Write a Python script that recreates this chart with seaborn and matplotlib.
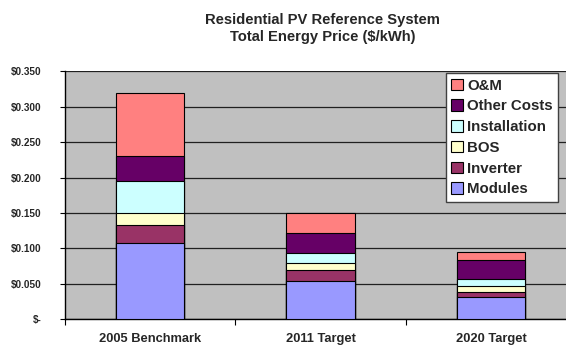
import numpy as np
import pandas as pd
import matplotlib
matplotlib.use("Agg")
import matplotlib.pyplot as plt
import seaborn as sns
from matplotlib.patches import Patch
from matplotlib.ticker import FuncFormatter, FixedLocator

# Cost components of the levelized energy price ($/kWh)
scenarios = ["2005 Benchmark", "2011 Target", "2020 Target"]
components = ["Modules", "Inverter", "BOS", "Installation", "Other Costs", "O&M"]
modules = [0.108, 0.054, 0.031]
inverter = [0.025, 0.016, 0.008]
bos = [0.017, 0.010, 0.008]
installation = [0.045, 0.014, 0.010]
other_costs = [0.035, 0.028, 0.026]
om = [0.089, 0.028, 0.012]
colors = ["#9999FF", "#993366", "#FFFFCC", "#CCFFFF", "#660066", "#FF8080"]
yticks = [0.0, 0.05, 0.10, 0.15, 0.20, 0.25, 0.30, 0.35]

values = pd.DataFrame(
    np.array([modules, inverter, bos, installation, other_costs, om]).T,
    index=scenarios, columns=components,
)
cumulative = values.cumsum(axis=1)

sns.set_style("white")
plt.rcParams["font.family"] = ["Liberation Sans", "DejaVu Sans"]
plt.rcParams["font.weight"] = "bold"

fig = plt.figure(figsize=(5.66, 3.46), dpi=100)
ax = fig.add_axes([0.1143, 0.0772, 0.9037, 0.7168])
ax.set_facecolor("#C0C0C0")

# Stacked bars: draw cumulative totals from the top layer down
for comp, col in reversed(list(zip(components, colors))):
    df = pd.DataFrame({"scenario": scenarios, "total": cumulative[comp].values})
    sns.barplot(data=df, x="scenario", y="total", color=col, width=0.4,
                edgecolor="black", linewidth=0.8, saturation=1, ax=ax, zorder=3)

ax.set_xlim(-0.5, 2.5)
ax.set_ylim(0, 0.35)
ax.yaxis.set_major_locator(FixedLocator(yticks))
ax.yaxis.set_major_formatter(FuncFormatter(lambda v, p: "$-" if abs(v) < 1e-9 else f"${v:.3f}"))
ax.grid(axis="y", color="#202020", linewidth=0.9, zorder=1)
ax.set_axisbelow(True)
ax.set_xlabel("")
ax.set_ylabel("")

for s in ["top", "right"]:
    ax.spines[s].set_visible(False)
for s in ["left", "bottom"]:
    ax.spines[s].set_color("black")
    ax.spines[s].set_linewidth(1.0)

ax.tick_params(axis="y", direction="out", length=3.5, width=0.8, color="black",
               labelsize=7.2, pad=13, left=True)
ax.tick_params(axis="x", which="major", length=0, labelsize=9.3, pad=10)
ax.set_xticks([-0.5, 0.5, 1.5, 2.5], minor=True)
ax.tick_params(axis="x", which="minor", direction="out", length=4, width=0.8,
               color="black", bottom=True)
for lbl in ax.get_xticklabels() + ax.get_yticklabels():
    lbl.set_fontweight("bold")

fig.text(0.57, 0.962, "Residential PV Reference System\nTotal Energy Price ($/kWh)",
         ha="center", va="top", fontsize=10.6, fontweight="bold", linespacing=1.25)

handles = [Patch(facecolor=c, edgecolor="black", linewidth=0.8, label=n)
           for n, c in zip(components, colors)]
leg = ax.legend(handles=handles[::-1], loc="upper left",
                bbox_to_anchor=(445.7 / 566, 272.7 / 346), bbox_transform=fig.transFigure,
                frameon=True, fancybox=False, framealpha=1, edgecolor="#404040",
                prop={"weight": "bold", "size": 10.8}, handlelength=0.8, handleheight=0.8,
                handletextpad=0.3, labelspacing=0.45, borderpad=0.35, borderaxespad=0)
leg.get_frame().set_linewidth(1.0)
leg.set_zorder(5)

fig.savefig("out.png", dpi=100, facecolor="white")
